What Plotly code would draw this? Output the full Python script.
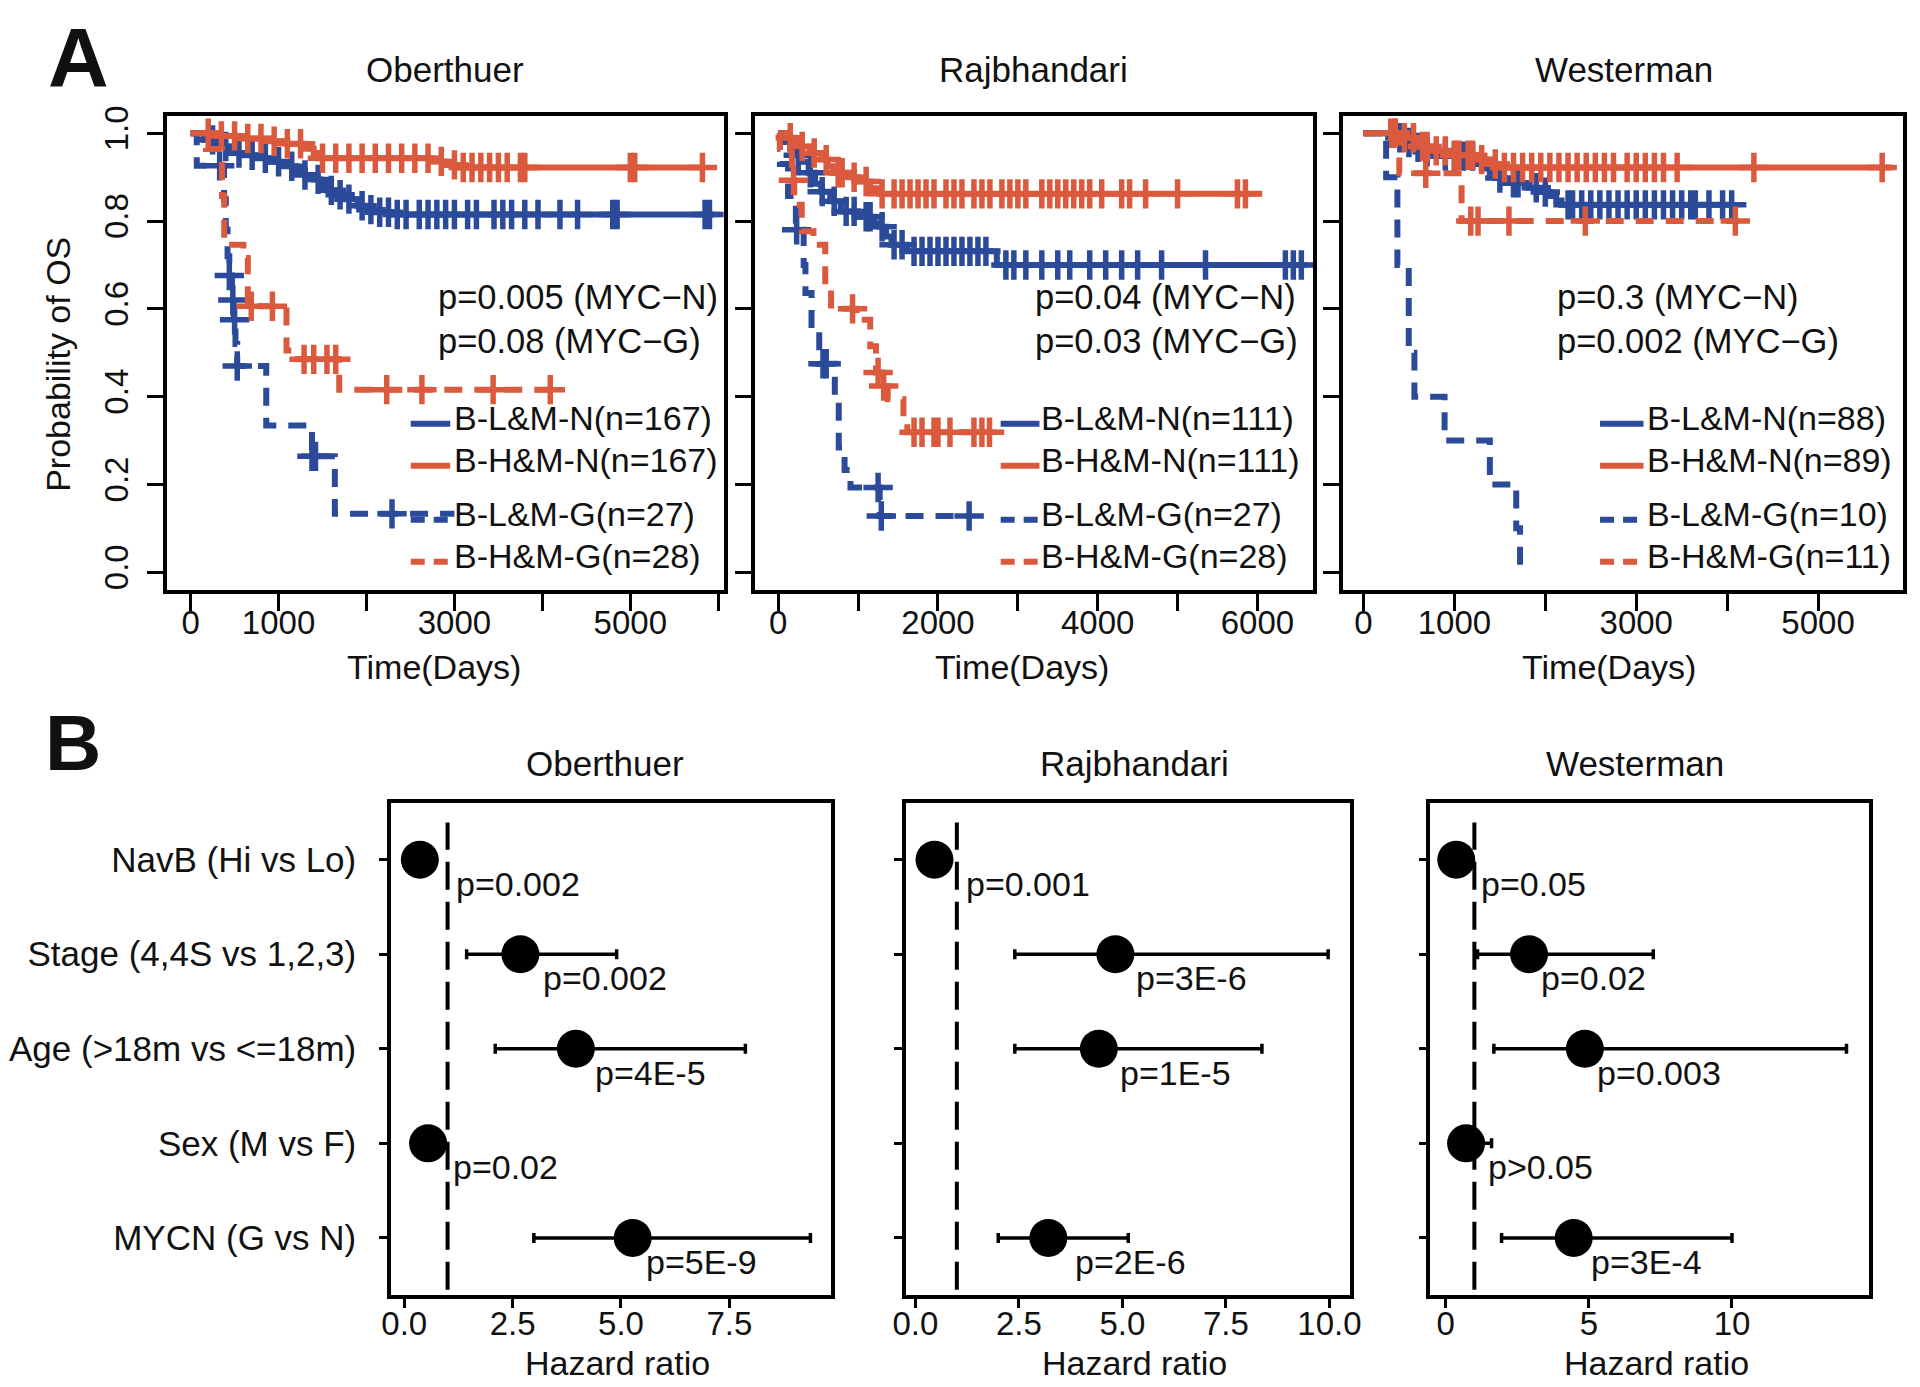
import numpy as np
import plotly.graph_objects as go

W, H = 1920, 1387
FONT = "Liberation Sans, Arial, Helvetica, sans-serif"
BLUE = "#2B4A9A"
RED = "#DB5A3E"
INK = "#111111"

# ---------------- Panel A: Kaplan-Meier data ----------------
cohorts = ["Oberthuer", "Rajbhandari", "Westerman"]

# Oberthuer
ob_LN_time = [0, 150, 300, 450, 600, 750, 900, 1050, 1200, 1300, 1400, 1480, 1550, 1650, 1750, 1900, 2000, 2100, 2300]
ob_LN_surv = [1.0, 0.985, 0.97, 0.955, 0.95, 0.943, 0.935, 0.925, 0.915, 0.905, 0.895, 0.882, 0.87, 0.86, 0.85, 0.835, 0.826, 0.82, 0.815]
ob_LN_end = 5950
ob_LN_cens = [250, 400, 550, 700, 850, 1000, 1150, 1300, 1450, 1600, 1700, 1800, 1950, 2050, 2150, 2250, 2350, 2450,
              2600, 2700, 2800, 2900, 3000, 3150, 3250, 3450, 3550, 3650, 3800, 3950, 4200, 4400, 4800, 4850, 5850, 5900]
ob_HN_time = [0, 300, 600, 900, 1100, 1300, 1400, 1450, 2750, 2900, 3050]
ob_HN_surv = [1.0, 0.994, 0.988, 0.982, 0.976, 0.965, 0.955, 0.943, 0.936, 0.928, 0.922]
ob_HN_end = 5850
ob_HN_cens = [200, 350, 500, 650, 800, 950, 1100, 1250, 1500, 1650, 1800, 1950, 2100, 2250, 2400, 2550, 2700, 2850,
              3000, 3100, 3200, 3300, 3400, 3500, 3600, 3750, 3800, 5000, 5050, 5820]
ob_LG_time = [0, 70, 380, 400, 420, 440, 470, 490, 510, 530, 860, 1380, 1640]
ob_LG_surv = [1.0, 0.926, 0.85, 0.78, 0.72, 0.676, 0.62, 0.575, 0.52, 0.47, 0.334, 0.264, 0.133]
ob_LG_end = 3000
ob_LG_cens = [330, 440, 480, 500, 530, 1380, 1420, 2290]
ob_HG_time = [0, 174, 357, 382, 600, 650, 1090, 1220, 1690]
ob_HG_surv = [1.0, 0.964, 0.857, 0.746, 0.716, 0.606, 0.505, 0.485, 0.416]
ob_HG_end = 4150
ob_HG_cens = [690, 930, 1290, 1400, 1550, 1650, 2230, 2630, 3440, 4090]
ob_labels = ["B-L&M-N(n=167)", "B-H&M-N(n=167)", "B-L&M-G(n=27)", "B-H&M-G(n=28)"]
ob_ptext = ["p=0.005 (MYC\u2212N)", "p=0.08 (MYC\u2212G)"]

# Rajbhandari
rj_LN_time = [0, 80, 150, 220, 293, 380, 460, 538, 650, 782, 1000, 1200, 1270, 1350, 1417, 1612, 2737]
rj_LN_surv = [1.0, 0.98, 0.965, 0.95, 0.935, 0.91, 0.885, 0.867, 0.845, 0.822, 0.81, 0.795, 0.787, 0.765, 0.746, 0.731, 0.70]
rj_LN_end = 6560
rj_LN_cens = [250, 400, 550, 700, 850, 950, 1100, 1150, 1300, 1450, 1550, 1700, 1800, 1900, 2000, 2100, 2200, 2300,
              2400, 2500, 2600, 2850, 2950, 3100, 3300, 3500, 3650, 3900, 4100, 4300, 4500, 4800, 5350, 6350, 6450, 6550]
rj_HN_time = [0, 100, 200, 293, 400, 538, 620, 684, 900, 1002, 1150, 1270]
rj_HN_surv = [1.0, 0.99, 0.98, 0.97, 0.955, 0.94, 0.925, 0.91, 0.90, 0.89, 0.875, 0.862]
rj_HN_end = 6060
rj_HN_cens = [150, 300, 450, 600, 750, 800, 950, 1100, 1300, 1450, 1550, 1650, 1750, 1850, 1950, 2100, 2200, 2300,
              2450, 2550, 2650, 2800, 2900, 3000, 3100, 3300, 3400, 3500, 3600, 3700, 3800, 3900, 4050, 4300, 4400,
              4600, 5000, 5750, 5850]
rj_LG_time = [0, 20, 122, 220, 318, 340, 416, 513, 708, 757, 830, 904, 1270]
rj_LG_surv = [1.0, 0.93, 0.857, 0.78, 0.70, 0.636, 0.555, 0.475, 0.404, 0.284, 0.233, 0.193, 0.128]
rj_LG_end = 2390
rj_LG_cens = [230, 560, 600, 1250, 1290, 2390]
rj_HG_time = [0, 20, 171, 200, 294, 441, 588, 661, 980, 1151, 1224, 1300, 1371, 1567, 1616]
rj_HG_surv = [1.0, 0.964, 0.893, 0.837, 0.777, 0.746, 0.646, 0.60, 0.575, 0.515, 0.455, 0.424, 0.394, 0.354, 0.319]
rj_HG_end = 2645
rj_HG_cens = [190, 930, 1250, 1320, 1700, 1800, 1950, 2000, 2150, 2450, 2550, 2645]
rj_labels = ["B-L&M-N(n=111)", "B-H&M-N(n=111)", "B-L&M-G(n=27)", "B-H&M-G(n=28)"]
rj_ptext = ["p=0.04 (MYC\u2212N)", "p=0.03 (MYC\u2212G)"]

# Westerman
ws_LN_time = [0, 352, 450, 560, 650, 768, 1224, 1300, 1390, 1450, 1556, 1805, 1950, 2054, 2120, 2178]
ws_LN_surv = [1.0, 0.99, 0.979, 0.968, 0.958, 0.948, 0.93, 0.92, 0.91, 0.898, 0.887, 0.876, 0.866, 0.857, 0.847, 0.837]
ws_LN_end = 4066
ws_LN_cens = [400, 500, 600, 700, 900, 1000, 1100, 1200, 1500, 1650, 1700, 1900, 2000, 2250, 2300, 2400, 2500, 2600,
              2700, 2800, 2900, 3000, 3100, 3200, 3300, 3400, 3500, 3600, 3650, 3800, 3950, 4050]
ws_HN_time = [0, 436, 602, 750, 934, 1265, 1390, 1473]
ws_HN_surv = [1.0, 0.99, 0.97, 0.96, 0.95, 0.94, 0.93, 0.922]
ws_HN_end = 5809
ws_HN_cens = [300, 350, 450, 550, 650, 700, 800, 900, 1000, 1050, 1150, 1200, 1300, 1450, 1550, 1650, 1750, 1850,
              1950, 2050, 2150, 2250, 2350, 2450, 2550, 2650, 2750, 2900, 3000, 3100, 3200, 3300, 3450, 4294, 5705]
ws_LG_time = [0, 249, 373, 498, 560, 892, 1390, 1680, 1722]
ws_LG_surv = [1.0, 0.9, 0.7, 0.5, 0.4, 0.3, 0.2, 0.1, 0.0]
ws_LG_end = 1722
ws_LG_cens = []
ws_HG_time = [0, 394, 1079]
ws_HG_surv = [1.0, 0.909, 0.80]
ws_HG_end = 4128
ws_HG_cens = [350, 685, 1180, 1260, 1600, 2440, 4090]
ws_labels = ["B-L&M-N(n=88)", "B-H&M-N(n=89)", "B-L&M-G(n=10)", "B-H&M-G(n=11)"]
ws_ptext = ["p=0.3 (MYC\u2212N)", "p=0.002 (MYC\u2212G)"]

km_yticks = [0.0, 0.2, 0.4, 0.6, 0.8, 1.0]
km_ytext = ["0.0", "0.2", "0.4", "0.6", "0.8", "1.0"]
ob_xticks = [0, 1000, 2000, 3000, 4000, 5000, 6000]
ob_xtext = ["0", "1000", "", "3000", "", "5000", ""]
rj_xticks = [0, 1000, 2000, 3000, 4000, 5000, 6000]
rj_xtext = ["0", "", "2000", "", "4000", "", "6000"]
ws_xticks = [0, 1000, 2000, 3000, 4000, 5000]
ws_xtext = ["0", "1000", "", "3000", "", "5000"]

# ---------------- Panel B: Cox hazard ratios ----------------
hr_factors = ["NavB (Hi vs Lo)", "Stage (4,4S vs 1,2,3)", "Age (>18m vs <=18m)", "Sex (M vs F)", "MYCN (G vs N)"]
hr_rows = [5, 4, 3, 2, 1]
ref_hr = 1.0

ob_hr = [0.36, 2.68, 3.96, 0.55, 5.27]
ob_lo = [0.20, 1.44, 2.10, 0.35, 2.99]
ob_hi = [0.62, 4.90, 7.87, 0.85, 9.37]
ob_p = ["p=0.002", "p=0.002", "p=4E-5", "p=0.02", "p=5E-9"]
ob_px = [1.28, 3.30, 4.50, 1.22, 5.67]

rj_hr = [0.46, 4.83, 4.43, None, 3.21]
rj_lo = [0.25, 2.40, 2.40, None, 2.00]
rj_hi = [0.80, 9.97, 8.37, None, 5.14]
rj_p = ["p=0.001", "p=3E-6", "p=1E-5", None, "p=2E-6"]
rj_px = [1.31, 5.42, 5.04, None, 3.95]

ws_hr = [0.367, 2.91, 4.86, 0.71, 4.47]
ws_lo = [0.15, 1.11, 1.68, 0.30, 1.95]
ws_hi = [0.90, 7.25, 14.0, 1.60, 10.0]
ws_p = ["p=0.05", "p=0.02", "p=0.003", "p>0.05", "p=3E-4"]
ws_px = [1.38, 3.46, 5.44, 1.60, 5.20]

ob_bticks = [0, 2.5, 5, 7.5]
ob_btext = ["0.0", "2.5", "5.0", "7.5"]
rj_bticks = [0, 2.5, 5, 7.5, 10]
rj_btext = ["0.0", "2.5", "5.0", "7.5", "10.0"]
ws_bticks = [0, 5, 10]
ws_btext = ["0", "5", "10"]

# ---------------- layout geometry (pixels) ----------------
A_left = [156, 751.6, 1347.3]
A_right = [720, 1317.3, 1915]
A_top, A_bot = 106.5, 584
A_xrange = [[-269, 6061], [-294, 6698], [-228, 5935]]
A_yrange = [-0.04, 1.04]

B_left = [383, 904.3, 1436]
B_right = [829, 1354.3, 1880]
B_top, B_bot = 798.7, 1294
B_xrange = [[-0.305, 9.85], [-0.24, 10.49], [-0.54, 14.77]]
B_yrange = [0.4, 5.6]

XPAD = -5   # left-anchored text correction
TY = -6     # vertical text correction


def px(x):
    return x / W


def py(y):
    return 1 - (y + TY) / H


fig = go.Figure()
annotations = []
shapes = []


def step_value(times, surv, t):
    i = np.searchsorted(np.array(times), t, side="right") - 1
    return surv[max(i, 0)]


km_sets = [
    [(ob_LN_time, ob_LN_surv, ob_LN_end, ob_LN_cens), (ob_HN_time, ob_HN_surv, ob_HN_end, ob_HN_cens),
     (ob_LG_time, ob_LG_surv, ob_LG_end, ob_LG_cens), (ob_HG_time, ob_HG_surv, ob_HG_end, ob_HG_cens)],
    [(rj_LN_time, rj_LN_surv, rj_LN_end, rj_LN_cens), (rj_HN_time, rj_HN_surv, rj_HN_end, rj_HN_cens),
     (rj_LG_time, rj_LG_surv, rj_LG_end, rj_LG_cens), (rj_HG_time, rj_HG_surv, rj_HG_end, rj_HG_cens)],
    [(ws_LN_time, ws_LN_surv, ws_LN_end, ws_LN_cens), (ws_HN_time, ws_HN_surv, ws_HN_end, ws_HN_cens),
     (ws_LG_time, ws_LG_surv, ws_LG_end, ws_LG_cens), (ws_HG_time, ws_HG_surv, ws_HG_end, ws_HG_cens)],
]
km_labels = [ob_labels, rj_labels, ws_labels]
km_ptexts = [ob_ptext, rj_ptext, ws_ptext]
km_xticks = [(ob_xticks, ob_xtext), (rj_xticks, rj_xtext), (ws_xticks, ws_xtext)]
curve_colors = [BLUE, RED, BLUE, RED]
curve_dash = ["solid", "solid", "18px,12px", "18px,12px"]

ptext_x = [434, 1038.5, 1567]
ptext_y = [294.6, 339.3]
leg_line = [(403, 443), (1000.7, 1040), (1608, 1652)]
leg_text_x = [450, 1044.5, 1659]
leg_y = [416.7, 459, 513.4, 555.8]
titleA_x = [438, 1034, 1632]
timeA_x = [427, 1022.5, 1617]

layout_axes = {}
for k in range(3):
    n = k + 1
    xa = "x" if n == 1 else f"x{n}"
    ya = "y" if n == 1 else f"y{n}"
    for ci, (tt, ss, tend, cens) in enumerate(km_sets[k]):
        xs = list(tt) + [tend]
        ys = list(ss) + [ss[-1]]
        fig.add_trace(go.Scatter(x=xs, y=ys, mode="lines", line_shape="hv", xaxis=xa, yaxis=ya,
                                 line=dict(color=curve_colors[ci], width=6, dash=curve_dash[ci]),
                                 hoverinfo="skip", showlegend=False))
        if cens:
            cy = [step_value(tt, ss, c) for c in cens]
            fig.add_trace(go.Scatter(x=cens, y=cy, mode="markers", xaxis=xa, yaxis=ya,
                                     marker=dict(symbol="cross-thin", size=21, color=curve_colors[ci],
                                                 line=dict(width=5.5, color=curve_colors[ci])),
                                     hoverinfo="skip", showlegend=False))
    tv, tx = km_xticks[k]
    layout_axes["xaxis" if n == 1 else f"xaxis{n}"] = dict(
        domain=[px(A_left[k]), px(A_right[k])], range=A_xrange[k], anchor=ya,
        showline=True, mirror=True, linecolor="black", linewidth=3.5, showgrid=False, zeroline=False,
        ticks="outside", ticklen=17, tickwidth=3, tickcolor="black", tickvals=tv, ticktext=tx,
        tickfont=dict(family=FONT, size=33, color=INK), ticklabelstandoff=-16)
    layout_axes["yaxis" if n == 1 else f"yaxis{n}"] = dict(
        domain=[1 - A_bot / H, 1 - A_top / H], range=A_yrange, anchor=xa,
        showline=True, mirror=True, linecolor="black", linewidth=3.5, showgrid=False, zeroline=False,
        ticks="outside", ticklen=16, tickwidth=3, tickcolor="black", tickvals=km_yticks, ticktext=km_ytext,
        showticklabels=(k == 0), tickangle=-90,
        tickfont=dict(family=FONT, size=33, color=INK), ticklabelstandoff=6)
    annotations.append(dict(text=cohorts[k], x=px(titleA_x[k]), y=py(66), xref="paper", yref="paper",
                            xanchor="center", yanchor="middle", showarrow=False,
                            font=dict(family=FONT, size=35, color=INK)))
    annotations.append(dict(text="Time(Days)", x=px(timeA_x[k]), y=py(668), xref="paper", yref="paper",
                            xanchor="center", yanchor="middle", showarrow=False,
                            font=dict(family=FONT, size=34, color=INK)))
    for j, t in enumerate(km_ptexts[k]):
        annotations.append(dict(text=t, x=px(ptext_x[k] + XPAD), y=py(ptext_y[j]), xref="paper", yref="paper",
                                xanchor="left", yanchor="middle", showarrow=False,
                                font=dict(family=FONT, size=34.5, color=INK)))
    for j, lab in enumerate(km_labels[k]):
        x0, x1 = leg_line[k]
        shapes.append(dict(type="line", xref="paper", yref="paper", x0=px(x0), x1=px(x1),
                           y0=1 - leg_y[j] / H, y1=1 - leg_y[j] / H,
                           line=dict(color=curve_colors[j], width=6,
                                     dash="solid" if j < 2 else "14px,9px")))
        annotations.append(dict(text=lab, x=px(leg_text_x[k] + XPAD), y=py(leg_y[j]), xref="paper", yref="paper",
                                xanchor="left", yanchor="middle", showarrow=False,
                                font=dict(family=FONT, size=34, color=INK)))

annotations.append(dict(text="Probability of OS", x=px(46), y=py(363), xref="paper", yref="paper",
                        textangle=-90, xanchor="center", yanchor="middle", showarrow=False,
                        font=dict(family=FONT, size=34, color=INK)))
annotations.append(dict(text="<b>A</b>", x=px(34), y=1.0, xref="paper", yref="paper",
                        xanchor="left", yanchor="top", showarrow=False, borderpad=0,
                        font=dict(family=FONT, size=84, color=INK)))
annotations.append(dict(text="<b>B</b>", x=px(30), y=py(744), xref="paper", yref="paper",
                        xanchor="left", yanchor="middle", showarrow=False,
                        font=dict(family=FONT, size=78, color=INK)))

# ---------------- Panel B ----------------
hr_sets = [(ob_hr, ob_lo, ob_hi, ob_p, ob_px), (rj_hr, rj_lo, rj_hi, rj_p, rj_px), (ws_hr, ws_lo, ws_hi, ws_p, ws_px)]
b_ticks = [(ob_bticks, ob_btext), (rj_bticks, rj_btext), (ws_bticks, ws_btext)]
titleB_x = [600, 1136, 1643]
hazB_x = [612, 1136, 1665]

for k in range(3):
    n = k + 4
    xa, ya = f"x{n}", f"y{n}"
    hr, lo, hi, pl, plx = hr_sets[k]
    keep = [i for i in range(len(hr)) if hr[i] is not None]
    xs = [hr[i] for i in keep]
    ys = [hr_rows[i] for i in keep]
    fig.add_trace(go.Scatter(
        x=xs, y=ys, mode="markers", xaxis=xa, yaxis=ya, hoverinfo="skip", showlegend=False,
        marker=dict(symbol="circle", size=38, color="black"),
        error_x=dict(type="data", symmetric=False,
                     array=[hi[i] - hr[i] for i in keep], arrayminus=[hr[i] - lo[i] for i in keep],
                     color="black", thickness=3.5, width=5)))
    shapes.append(dict(type="line", xref=xa, yref=f"{ya} domain", x0=ref_hr, x1=ref_hr, y0=0.01, y1=0.96,
                       line=dict(color="black", width=4, dash="28px,12px")))
    for i in keep:
        annotations.append(dict(text=pl[i], x=plx[i], y=hr_rows[i], xref=xa, yref=ya, xanchor="left",
                                yanchor="middle", yshift=-30 - TY, xshift=-6, showarrow=False,
                                font=dict(family=FONT, size=34, color=INK)))
    tv, tx = b_ticks[k]
    layout_axes[f"xaxis{n}"] = dict(
        domain=[px(B_left[k]), px(B_right[k])], range=B_xrange[k], anchor=ya,
        showline=True, mirror=True, linecolor="black", linewidth=3.5, showgrid=False, zeroline=False,
        ticks="outside", ticklen=10, tickwidth=3, tickcolor="black", tickvals=tv, ticktext=tx,
        tickfont=dict(family=FONT, size=33, color=INK), ticklabelstandoff=-13)
    layout_axes[f"yaxis{n}"] = dict(
        domain=[1 - B_bot / H, 1 - B_top / H], range=B_yrange, anchor=xa,
        showline=True, mirror=True, linecolor="black", linewidth=3.5, showgrid=False, zeroline=False,
        ticks="outside", ticklen=8, tickwidth=3, tickcolor="black", tickvals=hr_rows, ticktext=hr_factors,
        showticklabels=(k == 0), tickfont=dict(family=FONT, size=35, color=INK), ticklabelstandoff=16)
    annotations.append(dict(text=cohorts[k], x=px(titleB_x[k]), y=py(765), xref="paper", yref="paper",
                            xanchor="center", yanchor="middle", showarrow=False,
                            font=dict(family=FONT, size=35, color=INK)))
    annotations.append(dict(text="Hazard ratio", x=px(hazB_x[k]), y=py(1369), xref="paper", yref="paper",
                            xanchor="center", yanchor="middle", showarrow=False,
                            font=dict(family=FONT, size=34, color=INK)))

fig.update_layout(
    width=W, height=H, autosize=False,
    margin=dict(l=0, r=0, t=0, b=0, pad=0),
    paper_bgcolor="white", plot_bgcolor="white",
    showlegend=False, annotations=annotations, shapes=shapes,
    font=dict(family=FONT, color=INK),
    **layout_axes)

fig.write_html("out.html", config={"displayModeBar": False},
               post_script="document.body.style.margin='0';")
